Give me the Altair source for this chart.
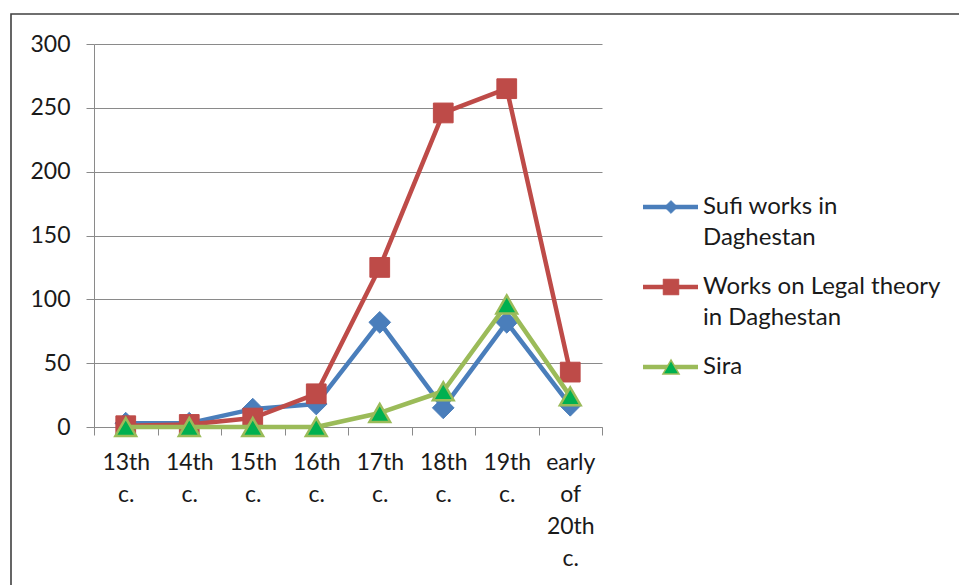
import altair as alt
import pandas as pd

# Number of manuscripts per century
periods = ["13th c.", "14th c.", "15th c.", "16th c.", "17th c.", "18th c.", "19th c.", "early of 20th c."]
sufi = [3, 3, 14, 18, 82, 15, 82, 17]
legal = [1, 2, 7, 26, 125, 246, 265, 43]
sira = [0, 0, 0, 0, 11, 28, 96, 24]

series_names = ["Sufi works in Daghestan", "Works on Legal theory in Daghestan", "Sira"]
legend_lines = [["Sufi works in", "Daghestan"], ["Works on Legal theory", "in Daghestan"], ["Sira"]]

FONT = "Lato"
FS = 23
TEXT = "#1a1a1a"
GRID = "#8a8a8a"

styles = [
    dict(line="#4A7EBB", shape="diamond", fill="#4A7EBB", stroke="#4A7EBB", size=470, lsize=170, sw=1),
    dict(line="#BE4B48", shape="square", fill="#BE4B48", stroke="#BE4B48", size=390, lsize=250, sw=1),
    dict(line="#9BBB59", shape="triangle-up", fill="#00B050", stroke="#9BBB59", size=430, lsize=260, sw=2.5),
]

rows = []
for name, vals in zip(series_names, [sufi, legal, sira]):
    for p, v in zip(periods, vals):
        rows.append({"period": p, "series": name, "count": v})
df = pd.DataFrame(rows)

W, H = 508, 383

x_enc = alt.X(
    "period:N",
    sort=periods,
    bandPosition=0.5,
    scale=alt.Scale(type="band", paddingInner=0, paddingOuter=0),
    axis=alt.Axis(
        title=None, labelAngle=0, labelExpr="split(datum.label, ' ')",
        labelFont=FONT, labelFontSize=FS, labelColor=TEXT, labelLineHeight=32,
        labelPadding=16, tickBand="extent", tickSize=8, tickColor=GRID,
        domainColor=GRID, grid=False, labelBaseline="top",
    ),
)
y_enc = alt.Y(
    "count:Q",
    scale=alt.Scale(domain=[0, 300], nice=False, zero=True),
    axis=alt.Axis(
        title=None, values=[0, 50, 100, 150, 200, 250, 300],
        labelFont=FONT, labelFontSize=FS, labelColor=TEXT, labelPadding=16,
        tickSize=8, tickColor=GRID, domainColor=GRID, gridColor=GRID, grid=True,
    ),
)

layers = []

# Outer frame of the figure
layers.append(
    alt.Chart(alt.Data(values=[{}])).mark_rect(
        fill="transparent", stroke="#404040", strokeWidth=1.6
    ).encode(x=alt.value(-83), x2=alt.value(900), y=alt.value(-30), y2=alt.value(700))
)

for name, st in zip(series_names, styles):
    base = alt.Chart(df).transform_filter(alt.datum.series == name)
    layers.append(
        base.mark_line(color=st["line"], strokeWidth=4.5, strokeJoin="round", strokeCap="round")
        .encode(x=x_enc, y=y_enc)
    )
    layers.append(
        base.mark_point(
            shape=st["shape"], size=st["size"], fill=st["fill"], stroke=st["stroke"],
            strokeWidth=st["sw"], fillOpacity=1, opacity=1,
        ).encode(x=x_enc, y=y_enc)
    )

# Legend, drawn beside the plot
for i, (lines, st) in enumerate(zip(legend_lines, styles)):
    ly = 163 + i * 80
    one = alt.Data(values=[{}])
    layers.append(
        alt.Chart(one).mark_rule(color=st["line"], strokeWidth=4.5)
        .encode(x=alt.value(549), x2=alt.value(604), y=alt.value(ly))
    )
    layers.append(
        alt.Chart(one).mark_point(
            shape=st["shape"], size=st["lsize"], fill=st["fill"], stroke=st["stroke"],
            strokeWidth=st["sw"] * 0.6, fillOpacity=1, opacity=1,
        ).encode(x=alt.value(577), y=alt.value(ly))
    )
    layers.append(
        alt.Chart(one).mark_text(
            align="left", baseline="line-top", font=FONT, fontSize=24, color=TEXT, lineHeight=31,
        ).encode(x=alt.value(609), y=alt.value(ly - 15.5), text=alt.value(lines))
    )

chart = (
    alt.layer(*layers)
    .properties(
        width=W, height=H,
        autosize=alt.AutoSizeParams(type="none"),
        padding={"left": 94, "top": 44, "right": 357, "bottom": 158},
        background="white",
    )
    .configure_view(stroke=None)
)

chart.save("out.html", embed_options={"renderer": "svg", "actions": False})
